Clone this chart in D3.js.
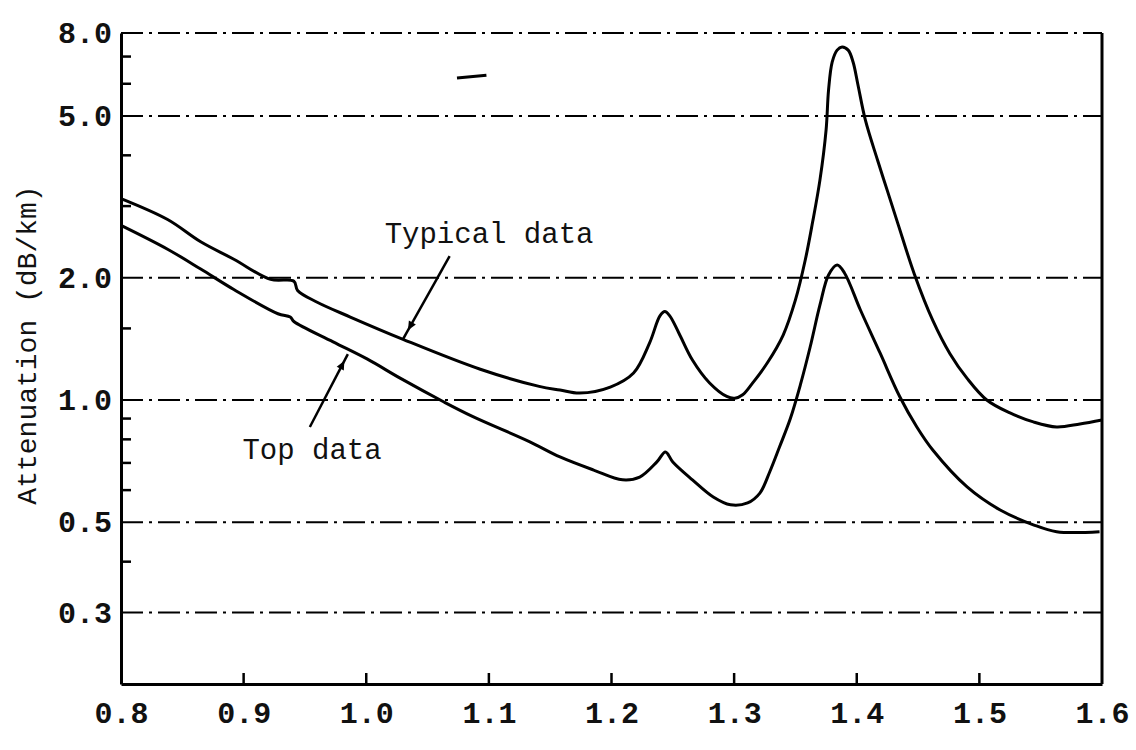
<!DOCTYPE html>
<html>
<head>
<meta charset="utf-8">
<script src="https://cdn.jsdelivr.net/npm/d3@7"></script>
<style>
html,body{margin:0;padding:0;background:#fff;}
svg{display:block;}
</style>
</head>
<body>
<svg id="chart" width="1136" height="750"></svg>
<script>
// ---- data ----
const xTickValues = [0.8, 0.9, 1.0, 1.1, 1.2, 1.3, 1.4, 1.5, 1.6];
const xTickLabels = ["0.8", "0.9", "1.0", "1.1", "1.2", "1.3", "1.4", "1.5", "1.6"];
const yTickValues = [8.0, 5.0, 2.0, 1.0, 0.5, 0.3];
const yTickLabels = ["8.0", "5.0", "2.0", "1.0", "0.5", "0.3"];
const yMinorTicks = [7, 6, 4, 3, 1.5, 0.9, 0.8, 0.7, 0.6, 0.4];

const typicalX = [0.800, 0.838, 0.865, 0.892, 0.922, 0.941, 0.944, 0.960, 0.987, 1.030, 1.093, 1.141, 1.158, 1.174, 1.199, 1.218, 1.231, 1.2395, 1.2435, 1.2475, 1.255, 1.266, 1.280, 1.294, 1.3005, 1.307, 1.315, 1.327, 1.340, 1.350, 1.358, 1.364, 1.370, 1.375, 1.377, 1.380, 1.384, 1.388, 1.393, 1.397, 1.401, 1.407, 1.417, 1.425, 1.434, 1.447, 1.462, 1.476, 1.490, 1.506, 1.525, 1.544, 1.563, 1.582, 1.600];
const typicalY = [3.13, 2.78, 2.45, 2.22, 1.98, 1.96, 1.86, 1.74, 1.60, 1.41, 1.19, 1.08, 1.058, 1.040, 1.076, 1.165, 1.38, 1.61, 1.65, 1.61, 1.46, 1.254, 1.101, 1.02, 1.01, 1.03, 1.10, 1.233, 1.445, 1.763, 2.21, 2.74, 3.48, 4.62, 5.79, 6.79, 7.26, 7.39, 7.26, 6.79, 5.96, 4.89, 3.89, 3.27, 2.69, 2.04, 1.57, 1.30, 1.13, 1.00, 0.929, 0.883, 0.858, 0.873, 0.893];

const topX = [0.800, 0.838, 0.865, 0.892, 0.928, 0.938, 0.941, 0.973, 1.001, 1.028, 1.063, 1.087, 1.133, 1.158, 1.185, 1.209, 1.223, 1.237, 1.244, 1.250, 1.266, 1.283, 1.297, 1.311, 1.321, 1.329, 1.337, 1.346, 1.354, 1.362, 1.370, 1.377, 1.384, 1.390, 1.403, 1.419, 1.435, 1.449, 1.462, 1.490, 1.517, 1.544, 1.563, 1.598];
const topY = [2.69, 2.35, 2.10, 1.87, 1.63, 1.60, 1.56, 1.39, 1.26, 1.13, 0.99, 0.91, 0.79, 0.724, 0.673, 0.636, 0.646, 0.704, 0.745, 0.704, 0.636, 0.577, 0.552, 0.558, 0.590, 0.665, 0.766, 0.903, 1.089, 1.350, 1.713, 2.03, 2.148, 2.054, 1.665, 1.305, 1.02, 0.858, 0.753, 0.611, 0.536, 0.493, 0.474, 0.474];

const curveLabels = ["Typical data", "Top data"];
const labelX = [1.015, 0.899];
const labelY = [2.44, 0.716];
const leaderFromX = [1.068, 0.954];
const leaderFromY = [2.26, 0.858];
const leaderToX = [1.030, 0.985];
const leaderToY = [1.412, 1.297];
const yTitle = "Attenuation (dB/km)";

// ---- layout ----
const svg = d3.select("#chart");
const x = d3.scaleLinear().domain([0.8, 1.6]).range([121, 1102]);
const y = d3.scaleLog().domain([0.2, 8]).range([684, 33]);
const mono = '"Liberation Mono", "DejaVu Sans Mono", monospace';

// horizontal dash-dot grid lines (top one acts as frame)
svg.append("g").selectAll("line").data(yTickValues).join("line")
  .attr("x1", x(0.8)).attr("x2", x(1.6))
  .attr("y1", d => y(d)).attr("y2", d => y(d))
  .attr("stroke", "#000").attr("stroke-width", 2)
  .attr("stroke-dasharray", "22,6,3,6");

// left axis
const yAxis = d3.axisLeft(y).tickValues(yTickValues)
  .tickFormat((d, i) => yTickLabels[i]).tickSize(0).tickPadding(9);
const gy = svg.append("g").attr("transform", `translate(${x(0.8)},0)`).call(yAxis);
gy.select(".domain").attr("stroke", "#000").attr("stroke-width", 3);
gy.selectAll("text").style("font-family", mono).style("font-size", "30px")
  .style("font-weight", "bold").attr("fill", "#111");

// minor ticks pointing inward
svg.append("g").selectAll("line").data(yMinorTicks).join("line")
  .attr("x1", x(0.8)).attr("x2", x(0.8) + 10)
  .attr("y1", d => y(d)).attr("y2", d => y(d))
  .attr("stroke", "#000").attr("stroke-width", 2.5);

// bottom axis
const xAxis = d3.axisBottom(x).tickValues(xTickValues)
  .tickFormat((d, i) => xTickLabels[i]).tickSize(0).tickPadding(18);
const gx = svg.append("g").attr("transform", `translate(0,${y(0.2)})`).call(xAxis);
gx.select(".domain").attr("stroke", "#000").attr("stroke-width", 3);
gx.selectAll("text").style("font-family", mono).style("font-size", "30px")
  .style("font-weight", "bold").attr("fill", "#111");
svg.append("g").selectAll("line").data(xTickValues.slice(1, -1)).join("line")
  .attr("x1", d => x(d)).attr("x2", d => x(d))
  .attr("y1", y(0.2)).attr("y2", y(0.2) - 11)
  .attr("stroke", "#000").attr("stroke-width", 2.5);

// right frame
svg.append("line")
  .attr("x1", x(1.6)).attr("x2", x(1.6))
  .attr("y1", y(8)).attr("y2", y(0.2))
  .attr("stroke", "#000").attr("stroke-width", 3);

// y title
svg.append("text")
  .attr("transform", `translate(36,345) rotate(-90)`)
  .attr("text-anchor", "middle")
  .style("font-family", mono).style("font-size", "28px").attr("fill", "#111")
  .text(yTitle);

// curves
const line = d3.line().x(d => x(d[0])).y(d => y(d[1])).curve(d3.curveCatmullRom.alpha(0.5));
svg.append("path").datum(typicalX.map((v, i) => [v, typicalY[i]]))
  .attr("d", line).attr("fill", "none").attr("stroke", "#000").attr("stroke-width", 3)
  .attr("stroke-linejoin", "round");
svg.append("path").datum(topX.map((v, i) => [v, topY[i]]))
  .attr("d", line).attr("fill", "none").attr("stroke", "#000").attr("stroke-width", 3)
  .attr("stroke-linejoin", "round");

// labels with leader lines
curveLabels.forEach((t, i) => {
  svg.append("text")
    .attr("x", x(labelX[i])).attr("y", y(labelY[i]))
    .style("font-family", mono).style("font-size", "29px").attr("fill", "#111")
    .text(t);
  const x1 = x(leaderFromX[i]), y1 = y(leaderFromY[i]);
  const x2 = x(leaderToX[i]), y2 = y(leaderToY[i]);
  svg.append("line").attr("x1", x1).attr("y1", y1).attr("x2", x2).attr("y2", y2)
    .attr("stroke", "#000").attr("stroke-width", 2.5);
  const ang = Math.atan2(y2 - y1, x2 - x1);
  const len = Math.hypot(x2 - x1, y2 - y1);
  const px = x1 + Math.cos(ang) * len * 0.8, py = y1 + Math.sin(ang) * len * 0.8;
  const s = 9, w = 4;
  const pts = [
    [px + Math.cos(ang) * s, py + Math.sin(ang) * s],
    [px - Math.sin(ang) * w, py + Math.cos(ang) * w],
    [px + Math.sin(ang) * w, py - Math.cos(ang) * w]
  ];
  svg.append("polygon").attr("points", pts.map(p => p.join(",")).join(" ")).attr("fill", "#000");
});

// stray mark near top
svg.append("line")
  .attr("x1", x(1.074)).attr("x2", x(1.098))
  .attr("y1", y(6.2)).attr("y2", y(6.3))
  .attr("stroke", "#000").attr("stroke-width", 3);
</script>
</body>
</html>
